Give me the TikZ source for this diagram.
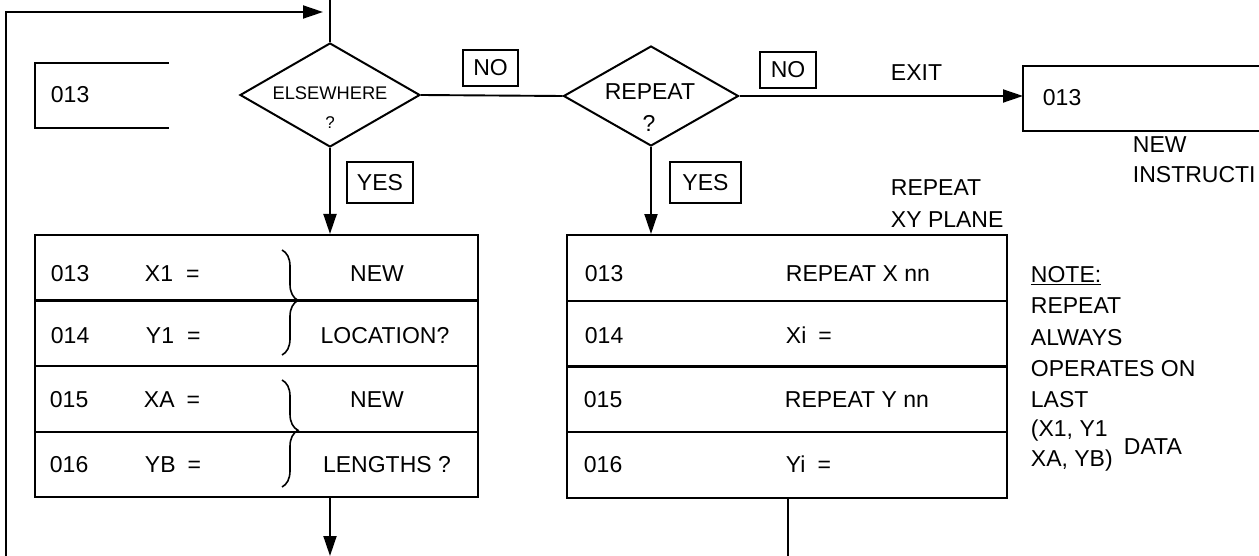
\documentclass[tikz,border=0pt]{standalone}
\usepackage{fontspec}
\setmainfont{Liberation Sans}
\usetikzlibrary{shapes.geometric,arrows.meta,decorations.pathreplacing}

\begin{document}
\begin{tikzpicture}[x=1pt,y=-1pt,
  line width=1.9pt,
  txt/.style={font=\fontsize{23}{27}\selectfont, inner sep=0pt, anchor=base west},
  ctxt/.style={txt, anchor=base},
  small/.style={font=\fontsize{18.3}{21}\selectfont, inner sep=0pt, anchor=base},
  tag/.style={draw, line width=1.9pt, font=\fontsize{23}{27}\selectfont, inner sep=0pt},
  decision/.style={diamond, draw, inner sep=0pt, line width=2pt},
  rowbox/.style={rectangle, draw, inner sep=0pt, line width=2pt},
  flow/.style={-{Triangle[length=20pt,width=13pt]}},
  brc/.style={decorate, decoration={brace, amplitude=16pt}, line width=1.6pt}]

\useasboundingbox (0,0) rectangle (1259,556);

% decisions
\node[decision, minimum width=180pt, minimum height=104pt] (else) at (330,95) {};
\node[decision, minimum width=175pt, minimum height=100pt] (rep) at (651,96) {};
\node[small] (elset) at (330,100) {ELSEWHERE};
\node[font=\fontsize{17}{19}\selectfont, inner sep=0pt, anchor=base] (elseq) at (330,129) {?};
\node[ctxt] (rept) at (650,100) {REPEAT};
\node[ctxt] (repq) at (649,132) {?};

% branch tags
\node[tag, minimum width=55pt, minimum height=36pt] (no1) at (490.5,68) {NO};
\node[tag, minimum width=56pt, minimum height=36pt] (no2) at (788,70) {NO};
\node[tag, minimum width=66pt, minimum height=41pt] (yes1) at (380,182.5) {YES};
\node[tag, minimum width=71pt, minimum height=41pt] (yes2) at (705.5,182.5) {YES};

% open instruction boxes
\node[minimum width=132pt, minimum height=63pt, inner sep=0pt, anchor=north west] (prevbox) at (35,63) {};
\draw[line width=1.9pt] (prevbox.north east) -- (prevbox.north west) -- (prevbox.south west) -- (prevbox.south east);
\node[txt] (prevnum) at (50,103) {013};

\node[minimum width=236pt, minimum height=63pt, inner sep=0pt, anchor=north west] (exitbox) at (1023,66) {};
\draw[line width=1.9pt] (exitbox.north east) -- (exitbox.north west) -- (exitbox.south west) -- (exitbox.south east);
\node[txt] (exitnum) at (1042,106) {013};

\node[txt] (exitlbl) at (890,81) {EXIT};
\node[txt] (newi1) at (1132,153) {NEW};
\node[txt] (newi2) at (1132,183) {INSTRUCTI};
\node[txt] (rxy1) at (890,196) {REPEAT};
\node[txt] (rxy2) at (890,228) {XY PLANE};

% left table
\node[rowbox, minimum width=443pt, minimum height=65.5pt] (L1) at (256.5,267.75) {};
\node[rowbox, minimum width=443pt, minimum height=65.5pt] (L2) at (256.5,333.25) {};
\node[rowbox, minimum width=443pt, minimum height=65.5pt] (L3) at (256.5,398.75) {};
\node[rowbox, minimum width=443pt, minimum height=65.5pt] (L4) at (256.5,464.25) {};

\node[txt] at (50,282) {013};
\node[txt] at (50,343) {014};
\node[txt] at (49,407) {015};
\node[txt] at (49,472) {016};
\node[txt] at (144,282) {X1\hspace{13pt}=};
\node[txt] at (145,343) {Y1\hspace{13pt}=};
\node[txt] at (143,407) {XA\hspace{12pt}=};
\node[txt] at (144,472) {YB\hspace{12pt}=};
\node[ctxt] at (377,282) {NEW};
\node[ctxt] at (385,343) {LOCATION?};
\node[ctxt] at (377,407) {NEW};
\node[ctxt] at (387,472) {LENGTHS ?};

\draw[brc, decoration={aspect=0.48}] (282,250) -- (282,355);
\draw[brc, decoration={aspect=0.47}] (282,380) -- (282,487);

% right table
\node[rowbox, minimum width=440pt, minimum height=65.75pt] (R1) at (787,267.9) {};
\node[rowbox, minimum width=440pt, minimum height=65.75pt] (R2) at (787,333.6) {};
\node[rowbox, minimum width=440pt, minimum height=65.75pt] (R3) at (787,399.4) {};
\node[rowbox, minimum width=440pt, minimum height=65.75pt] (R4) at (787,465.1) {};

\node[txt] at (584,282) {013};
\node[txt] at (584,343) {014};
\node[txt] at (583,407) {015};
\node[txt] at (583,472) {016};
\node[txt] at (785,282) {REPEAT X nn};
\node[txt] at (785,343) {Xi\hspace{12pt}=};
\node[txt] at (784,407) {REPEAT Y nn};
\node[txt] at (785,472) {Yi\hspace{12pt}=};

% note
\node[txt] at (1030,283) {\underline{NOTE:}};
\node[txt] at (1030,313) {REPEAT};
\node[txt] at (1030,345) {ALWAYS};
\node[txt] at (1030,376) {OPERATES ON};
\node[txt] at (1030,407) {LAST};
\node[txt] at (1030,436) {(X1, Y1};
\node[txt] at (1030,466) {XA, YB)};
\node[txt] at (1123,454) {DATA};

% connectors
\coordinate (lb) at (6,556);
\coordinate (lt) at (6,12);
\coordinate (topin) at (330,0);
\coordinate (lout) at (330,556);
\coordinate (rout) at (788,556);

\draw[flow, shorten >=7pt] (lb) -- (lt) -- (else.north |- lt);
\draw (topin) -- (else.north);
\draw[flow] (else.south) -- (else.south |- L1.north);
\draw (else.east) -- (rep.west);
\draw[flow] (rep.east) -- (rep.east -| exitbox.west);
\draw[flow] (rep.south) -- (rep.south |- R1.north);
\draw[flow] (else.south |- L4.south) -- (lout);
\draw (rout |- R4.south) -- (rout);

\end{tikzpicture}
\end{document}
